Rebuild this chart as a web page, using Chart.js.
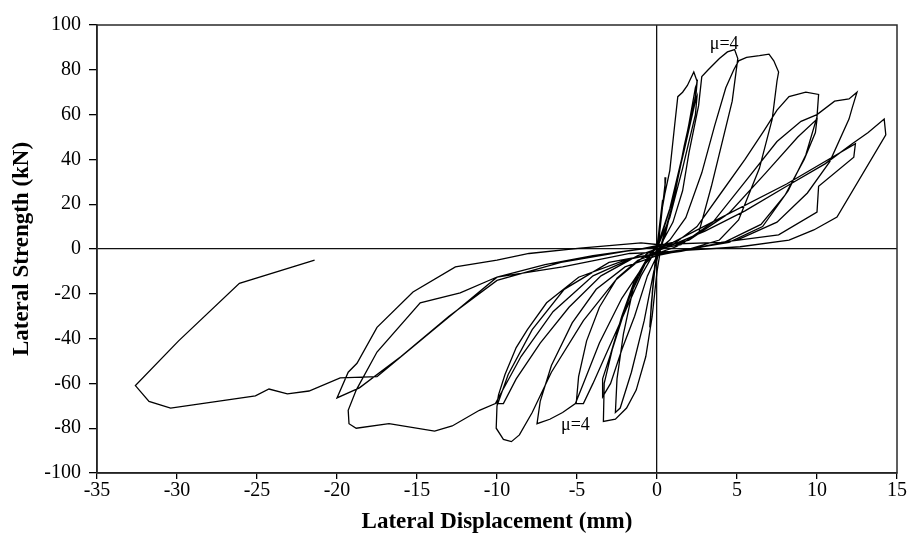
<!DOCTYPE html>
<html>
<head>
<meta charset="utf-8">
<script src="https://cdn.jsdelivr.net/npm/chart.js@4.4.1/dist/chart.umd.min.js"></script>
<style>
  html, body { margin: 0; padding: 0; background: #fff; }
  #wrap { width: 912px; height: 553px; }
</style>
</head>
<body>
<div id="wrap"><canvas id="hyst" width="912" height="553"></canvas></div>
<script>
// Cyclic test record: lateral displacement (mm) vs lateral strength (kN), one loop per array pair
const loop1Disp  = [0, 0.15, 0.35, 0.3, 0.05, -0.15, -0.3, -0.25, -0.05];
const loop1Force = [0, 10, 22, 18, 4, -8, -20, -16, -3];

const loop2Disp  = [0.1, 0.3, 0.55, 0.5, 0.15, -0.15, -0.35, -0.45, -0.4, -0.15];
const loop2Force = [3, 16, 32, 28, 8, -10, -24, -35, -30, -8];

const loop3Disp  = [0.1, 0.2, 0.5, 0.8, 1.1, 1.3, 1.6, 1.9, 2.3, 2.5, 2.4, 1.6, 0.8, 0.1,
                    -0.5, -1.2, -2.0, -2.8, -3.3, -3.35, -2.6, -1.9, -1.3, -0.7, -0.3, 0.0];
const loop3Force = [2, 13, 25, 35, 55, 68, 70, 73, 79, 75, 68, 42, 18, 3,
                    -3, -12, -27, -45, -60, -77, -76, -71, -63, -48, -30, -10];

const loop4Disp  = [0.3, 0.9, 1.5, 2.0, 2.4, 2.5, 2.4, 1.7, 0.9, 0.2,
                    -0.6, -1.4, -2.2, -2.9, -3.4, -3.4, -2.9, -2.2, -1.4, -0.6, 0.0];
const loop4Force = [3, 18, 38, 56, 72, 74, 66, 44, 20, 4,
                    -4, -14, -30, -47, -58, -66, -60, -45, -30, -12, -3];

const loop5Disp  = [0.5, 1.1, 1.7, 2.2, 2.5, 2.4, 1.6, 0.8, 0.1,
                    -0.7, -1.5, -2.1, -2.5, -2.6, -2.3, -1.6, -0.8, -0.2, 0.1];
const loop5Force = [6, 24, 46, 62, 68, 60, 36, 14, 2,
                    -6, -18, -38, -58, -73, -71, -55, -32, -10, -2];

const loop6Disp  = [0.4, 1.0, 1.6, 2.0, 2.6, 2.8, 3.2, 3.9, 4.4, 4.85, 5.05, 4.7, 3.4, 2.6, 1.2, 0.0,
                    -1.2, -2.5, -3.6, -4.4, -4.9, -5.05, -4.6, -4.0, -3.0, -2.0, -1.0, -0.2];
const loop6Force = [4, 12, 26, 43, 64, 77, 80, 85, 88, 89, 85, 66, 28, 7, 1, -2,
                    -5, -13, -26, -41, -57, -69, -69, -60, -44, -28, -12, -2];

const loop7Disp  = [0.8, 1.8, 2.8, 3.6, 4.3, 4.8, 5.1, 5.6, 6.4, 7.0, 7.3, 7.6, 7.5, 7.2, 6.4, 5.1, 3.9, 2.0, 0.0,
                    -2.0, -3.8, -5.3, -6.6, -7.3, -7.5, -6.7, -5.9, -5.1, -4.6, -3.6, -2.2, -0.8, 0.0];
const loop7Force = [4, 14, 34, 55, 72, 80, 84, 85.5, 86.3, 87, 84, 79, 75, 58, 36, 13, 4, 0, -3,
                    -8, -18, -33, -52, -68, -78, -76, -73, -69, -60, -42, -22, -7, -1];

const loop8Disp  = [1.0, 2.5, 4.0, 5.5, 6.7, 7.5, 8.25, 9.3, 10.1, 10.0, 9.3, 8.2, 6.6, 4.5, 2.0, 0.0,
                    -2.0, -4.9, -6.9, -8.1, -8.8, -9.5, -9.9, -10.0, -9.6, -8.8, -7.3, -5.5, -3.5, -1.2, 0.0];
const loop8Force = [2, 10, 25, 40, 53, 62, 68, 70, 69, 59, 42, 26, 10, 3, 0, -2,
                    -5, -12.6, -24, -36, -44, -56, -65, -69, -69, -58, -42, -26, -12, -3, 0];

const loop9Disp  = [1.5, 3.5, 5.5, 7.5, 9.0, 10.0, 11.1, 12.0, 12.5, 12.2, 12.0, 10.8, 9.4, 7.5, 5.0, 2.0, 0.0,
                    -3.0, -5.8, -7.8, -9.3, -10.0, -10.05, -9.6, -9.1, -8.6, -7.8, -6.6, -4.6, -2.6, -0.6, 0.3];
const loop9Force = [2, 12, 30, 48, 57, 60, 66, 67, 70, 63, 58, 39, 25, 12, 4, 0, -2,
                    -6, -18, -36, -56, -70, -80, -85, -86, -83, -73, -55, -32, -14, -2, 1];

const loop10Disp  = [2.0, 4.5, 6.8, 8.8, 10.0, 9.9, 9.2, 8.0, 6.5, 4.2, 1.5,
                     -1.5, -4.0, -6.5, -8.5, -10.1, -11.1, -12.8, -13.9, -16.75, -18.8, -19.25, -19.3,
                     -18.8, -17.5, -14.8, -12.3, -10.0, -7.0, -4.0, -1.0];
const loop10Force = [4, 16, 34, 50, 58, 52, 40, 24, 11, 3, -1,
                     -4, -12, -28, -48, -69, -72, -79, -81.3, -78, -80, -78, -72,
                     -63, -46, -24, -19.6, -12.5, -7, -3, 0];

const loop11Disp  = [1.0, 4.0, 8.1, 12.4, 12.3, 10.1, 10.0, 7.6, 4.0, 0.0,
                     -1.0, -4.8, -8.0, -10.0, -12.6, -15.25, -17.5, -18.75, -19.3, -20.0,
                     -18.6, -16.0, -13.0, -10.0, -6.0, -2.0];
const loop11Force = [3, 14, 29, 47, 41, 28, 16.5, 6.3, 3, 2,
                     2.7, 0.4, -2, -5, -8, -19.2, -35, -51, -55, -66.5,
                     -62, -48, -30, -14, -6, -1];

const loop12Disp  = [1.0, 3.0, 5.5, 8.1, 10.5, 12.2, 13.2, 14.2, 14.3, 11.25, 9.8, 8.25, 5.2, 2.0, 0.0,
                     -1.7, -5.9, -10.0, -13.8, -17.5, -19.8, -21.75, -23.1, -24.25, -25.1,
                     -30.4, -31.75, -32.6, -29.9, -26.1, -21.4];
const loop12Force = [2, 8, 17, 28, 38, 47, 52, 58, 51, 14.3, 8.5, 4, 1, -0.5, -1.5,
                     -2, -8, -12.6, -35, -57, -57.5, -63.4, -64.7, -62.5, -65.6,
                     -71, -68, -61, -41, -15.3, -5];

const xTickValues = [-35, -30, -25, -20, -15, -10, -5, 0, 5, 10, 15];
const yTickValues = [-100, -80, -60, -40, -20, 0, 20, 40, 60, 80, 100];
const ductilityText = "μ=4";

const loops = [
  [loop1Disp, loop1Force], [loop2Disp, loop2Force], [loop3Disp, loop3Force],
  [loop4Disp, loop4Force], [loop5Disp, loop5Force], [loop6Disp, loop6Force],
  [loop7Disp, loop7Force], [loop8Disp, loop8Force], [loop9Disp, loop9Force],
  [loop10Disp, loop10Force], [loop11Disp, loop11Force], [loop12Disp, loop12Force],
];
const hysteresis = loops.flatMap(([d, f]) => d.map((x, i) => ({ x, y: f[i] })));

const serif = "'Liberation Serif', 'Times New Roman', serif";

// box around the plot area (top and right edges are not drawn by the scales)
const frame = {
  id: "frame",
  afterDraw(chart) {
    const { ctx, chartArea: a } = chart;
    ctx.save();
    ctx.strokeStyle = "#2a2a2a";
    ctx.lineWidth = 1.5;
    ctx.strokeRect(a.left, a.top, a.right - a.left, a.bottom - a.top);
    ctx.restore();
  },
};

// ductility markers next to the μ=4 peaks
const markers = {
  id: "markers",
  afterDatasetsDraw(chart) {
    const { ctx, scales } = chart;
    const spots = [[4.2, 91.5], [-5.1, -78.5]];
    ctx.save();
    ctx.font = "18px " + serif;
    ctx.fillStyle = "#000";
    ctx.textAlign = "center";
    ctx.textBaseline = "middle";
    spots.forEach(([x, y]) => {
      ctx.fillText(ductilityText, scales.x.getPixelForValue(x), scales.y.getPixelForValue(y));
    });
    ctx.restore();
  },
};

const zeroLine = (c) => (c.tick && c.tick.value === 0 ? "#111" : "rgba(0,0,0,0)");

new Chart(document.getElementById("hyst"), {
  type: "scatter",
  data: {
    datasets: [{
      data: hysteresis,
      showLine: true,
      borderColor: "#000",
      borderWidth: 1.3,
      pointRadius: 0,
      tension: 0,
      fill: false,
    }],
  },
  options: {
    responsive: false,
    animation: false,
    devicePixelRatio: 1,
    layout: { padding: { top: 25, right: 15, left: 0, bottom: 0 } },
    plugins: { legend: { display: false }, tooltip: { enabled: false } },
    scales: {
      x: {
        type: "linear",
        min: -35,
        max: 15,
        afterBuildTicks: (s) => { s.ticks = xTickValues.map((v) => ({ value: v })); },
        afterFit: (s) => { s.height = 80; },
        ticks: { autoSkip: false, maxRotation: 0, padding: 0, color: "#000", font: { family: serif, size: 20 } },
        grid: { color: zeroLine, lineWidth: 1.3, tickColor: "#000", tickLength: 6 },
        border: { display: true, color: "#111", width: 1.5 },
        title: {
          display: true,
          text: "Lateral Displacement (mm)",
          color: "#000",
          font: { family: serif, size: 23, weight: "bold" },
          padding: { top: 0, bottom: 17 },
        },
      },
      y: {
        type: "linear",
        min: -100,
        max: 100,
        afterBuildTicks: (s) => { s.ticks = yTickValues.map((v) => ({ value: v })); },
        afterFit: (s) => { s.width = 97; },
        ticks: { padding: 8, color: "#000", font: { family: serif, size: 20 } },
        grid: { color: zeroLine, lineWidth: 1.3, tickColor: "#000", tickLength: 8 },
        border: { display: true, color: "#111", width: 1.5 },
        title: {
          display: true,
          text: "Lateral Strength (kN)",
          color: "#000",
          font: { family: serif, size: 23, weight: "bold" },
          padding: { top: 8, bottom: 0 },
        },
      },
    },
  },
  plugins: [frame, markers],
});
</script>
</body>
</html>
